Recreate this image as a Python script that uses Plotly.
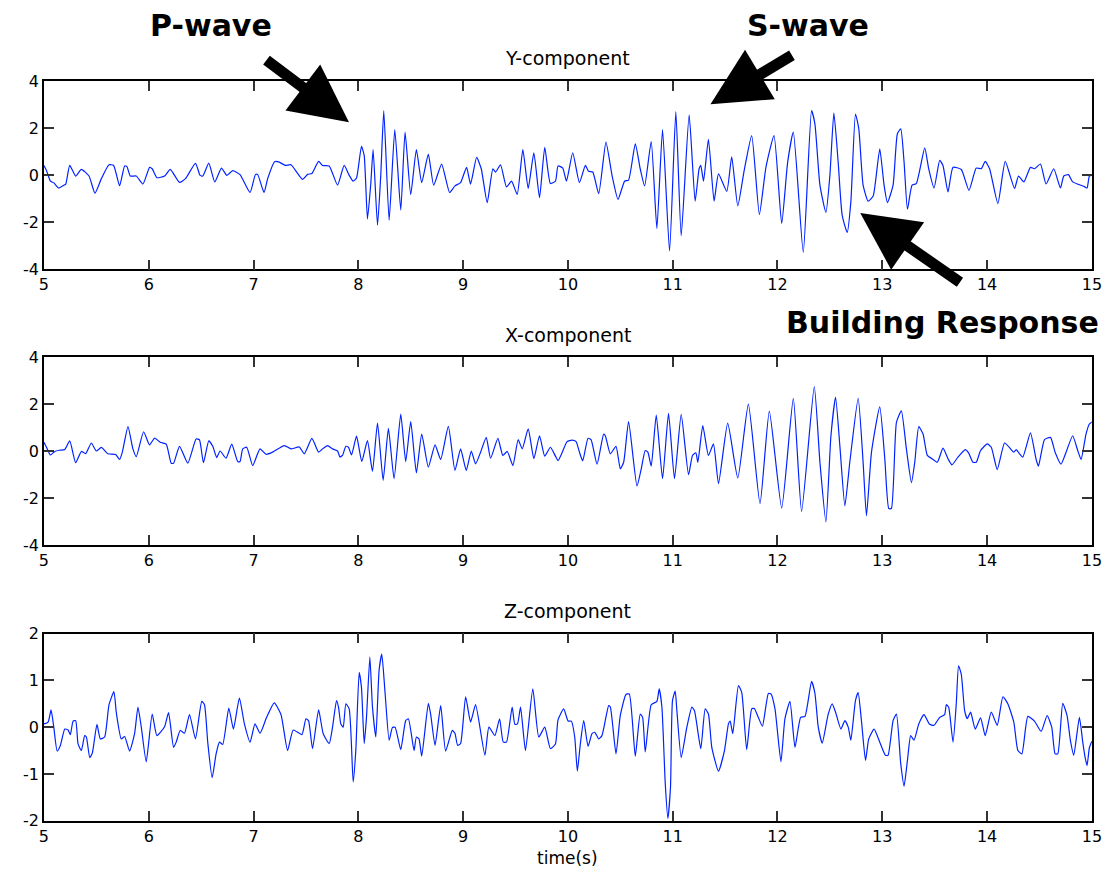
import plotly.graph_objects as go

# ---------------- data ----------------
# Y-component
t_y = [5.00,5.024,5.062,5.094,5.141,5.189,5.208,5.246,5.303,5.357,5.430,5.487,5.548,5.621,5.665,5.722,5.770,5.792,5.824,5.881,5.945,6.008,6.033,6.078,6.151,6.205,6.294,6.351,6.446,6.490,6.516,6.573,6.630,6.694,6.745,6.802,6.871,6.967,7.018,7.040,7.100,7.135,7.202,7.246,7.303,7.357,7.468,7.516,
       7.557,7.621,7.659,7.722,7.802,7.865,7.913,7.951,7.983,8.030,8.056,8.087,8.119,8.141,8.183,8.214,8.243,8.294,8.348,8.405,8.446,8.500,8.554,8.605,8.668,8.719,8.795,8.871,8.922,8.976,9.033,9.071,9.129,9.173,9.230,9.284,9.310,9.357,9.414,9.462,9.516,9.570,9.621,9.675,9.729,9.779,9.833,9.881,
       9.906,9.951,9.986,10.046,10.110,10.167,10.198,10.237,10.294,10.363,10.421,10.478,10.541,10.579,10.643,10.690,10.732,10.795,10.849,10.903,10.970,11.030,11.081,11.157,11.214,11.252,11.268,11.294,11.341,11.395,11.437,11.516,11.563,11.621,11.684,11.754,11.827,11.890,11.967,12.040,12.097,12.151,12.246,12.325,12.357,
       12.405,12.462,12.500,12.538,12.579,12.617,12.665,12.700,12.744,12.776,12.817,12.865,12.913,12.935,12.976,13.017,13.049,13.103,13.144,13.176,13.208,13.240,13.284,13.325,13.405,13.443,13.494,13.548,13.579,13.627,13.675,13.754,13.827,13.897,13.944,13.982,14.024,14.103,14.173,14.262,14.300,14.351,14.414,14.452,14.509,14.563,14.636,14.700,14.732,14.776,14.817,14.929,14.954,14.976,15.0]
a_y = [0.42,0.21,-0.25,-0.32,-0.54,-0.42,-0.37,0.42,-0.03,0.25,-0.03,-0.76,-0.14,0.45,0.42,-0.45,0.40,0.37,-0.03,-0.03,-0.37,0.34,0.28,-0.10,-0.03,0.25,-0.30,-0.14,0.51,0.00,-0.03,0.52,-0.28,0.31,0.00,0.20,0.03,-0.73,0.03,0.03,-0.73,-0.14,0.58,0.56,0.42,0.45,-0.17,0.04,
       0.08,0.59,0.42,0.40,-0.42,0.42,0.00,-0.25,-0.11,1.23,0.85,-1.86,-0.35,1.10,-2.12,0.00,2.75,-1.91,1.95,-1.48,1.84,-0.82,1.10,-0.31,0.90,-0.42,0.48,-0.73,-0.45,-0.31,0.34,-0.37,0.76,0.28,-1.16,0.28,0.14,0.45,-0.49,-0.25,-0.81,1.10,-0.56,0.96,-0.95,1.19,-0.35,-0.25,
       0.40,0.31,-0.25,0.96,-0.31,0.42,0.17,0.14,-0.78,1.41,0.00,-1.02,-0.25,-0.20,1.34,0.28,-0.45,1.44,-2.26,1.95,-3.22,2.71,-2.57,2.57,-1.10,0.28,0.42,-0.25,1.53,-1.10,0.06,-0.68,0.79,-1.30,0.25,1.69,-1.67,0.35,1.69,-2.05,0.56,1.84,-3.28,2.75,2.19,
       -0.42,-1.58,0.00,2.66,0.56,-1.69,-2.43,-1.13,2.61,1.98,-0.42,-1.10,-0.88,-0.28,1.13,-0.42,-1.16,-0.42,1.77,1.98,0.56,-1.44,-0.42,-0.35,1.17,0.28,-0.54,0.64,0.42,-0.71,0.34,0.25,-0.64,0.31,0.28,0.59,0.28,-1.20,0.59,-0.56,-0.03,-0.28,0.34,0.28,0.48,-0.37,0.28,-0.54,-0.03,0.03,-0.28,-0.48,-0.54,-0.03,0.0]

# X-component
t_x = [5.00,5.024,5.062,5.103,5.145,5.199,5.246,5.303,5.357,5.398,5.452,5.500,5.548,5.611,5.684,5.722,5.748,5.802,5.849,5.881,5.951,6.008,6.056,6.110,6.167,6.214,6.237,6.294,6.373,6.452,6.484,6.522,6.573,6.611,6.649,6.681,6.738,6.792,6.849,6.871,6.897,6.935,6.992,7.062,7.119,7.183,7.294,7.357,7.437,7.484,
       7.557,7.621,7.659,7.706,7.754,7.802,7.824,7.849,7.881,7.906,7.935,7.983,8.033,8.087,8.135,8.183,8.237,8.287,8.341,8.405,8.452,8.500,8.554,8.605,8.668,8.732,8.786,8.859,8.922,8.976,9.030,9.078,9.119,9.167,9.221,9.262,9.332,9.379,9.421,9.475,9.525,9.564,9.621,9.675,9.729,9.779,9.833,
       9.881,9.906,9.944,9.992,10.040,10.078,10.110,10.141,10.192,10.221,10.278,10.341,10.357,10.405,10.459,10.500,10.532,10.579,10.659,10.700,10.738,10.763,10.795,10.843,10.903,10.960,11.017,11.081,11.151,11.189,11.221,11.240,11.287,11.341,11.389,11.437,11.525,11.621,11.722,11.833,11.922,12.040,12.151,12.230,12.351,
       12.405,12.462,12.510,12.554,12.595,12.643,12.690,12.770,12.817,12.849,12.897,12.976,13.024,13.062,13.087,13.135,13.182,13.230,13.278,13.310,13.348,13.389,13.430,13.475,13.525,13.579,13.627,13.665,13.722,13.792,13.824,13.865,13.897,13.938,14.001,14.040,14.097,14.167,14.230,14.255,14.278,14.310,14.341,14.414,14.468,14.490,14.548,14.605,14.649,14.706,14.754,14.817,14.865,14.897,14.944,14.976,15.0]
a_x = [0.38,0.17,-0.16,-0.01,0.04,0.07,0.44,-0.49,-0.01,-0.10,0.35,0.01,0.16,-0.11,-0.14,-0.35,-0.04,1.05,0.10,-0.23,0.83,0.27,0.56,0.38,0.30,-0.51,-0.51,0.21,-0.51,0.52,0.49,-0.49,0.44,0.21,-0.27,0.01,-0.30,0.30,-0.44,-0.44,0.10,0.17,-0.61,0.10,-0.13,-0.04,0.24,0.10,0.18,-0.11,
       0.55,-0.04,0.10,0.24,0.10,0.01,-0.24,-0.18,0.21,0.17,-0.16,0.64,-0.44,0.45,-0.86,1.20,-1.24,0.97,-1.17,1.58,-0.44,1.26,-0.92,0.73,-0.68,0.27,-0.35,1.06,-0.82,0.10,-0.82,0.01,-0.54,-0.04,0.59,-0.30,0.55,-0.18,-0.01,-0.61,0.49,0.10,0.95,-0.32,0.66,-0.21,0.17,
       -0.21,-0.40,-0.07,0.41,0.47,0.41,-0.04,-0.41,0.55,0.49,-0.55,0.73,0.66,-0.11,0.21,-0.75,-0.47,1.26,-1.48,-0.75,0.03,-0.04,-0.64,1.54,-1.17,1.61,-1.17,1.57,-1.00,-0.18,-0.07,-0.47,1.09,-0.18,0.31,-1.38,1.20,-1.14,2.01,-2.23,1.71,-2.42,2.25,-2.56,2.75,
       -0.47,-3.01,0.66,2.29,0.24,-2.33,-0.47,2.25,-0.47,-2.75,-0.04,1.89,-0.32,-2.44,-2.44,1.23,1.72,0.10,-1.34,-0.47,1.05,0.73,-0.18,-0.32,-0.47,0.13,-0.32,-0.58,-0.25,0.07,-0.07,-0.47,-0.47,0.03,0.31,0.17,-0.78,0.35,0.07,-0.04,0.07,-0.11,-0.25,0.78,-0.35,-0.64,0.49,0.59,-0.04,-0.55,-0.04,0.66,0.03,-0.35,0.73,1.16,1.25]

# Z-component
t_z = [5.00,5.040,5.068,5.094,5.126,5.157,5.199,5.230,5.252,5.278,5.303,5.325,5.357,5.389,5.405,5.437,5.462,5.506,5.538,5.579,5.621,5.668,5.690,5.738,5.770,5.817,5.865,5.897,5.929,5.976,6.033,6.078,6.151,6.189,6.237,6.262,6.300,6.341,6.389,6.446,6.506,6.532,6.563,6.605,6.643,6.675,6.706,6.764,6.808,6.865,6.913,6.967,7.014,7.062,7.125,7.198,7.262,7.325,7.379,7.462,7.500,7.525,
       7.563,7.621,7.665,7.722,7.754,7.792,7.811,7.833,7.856,7.881,7.913,7.951,7.976,8.008,8.030,8.056,8.078,8.110,8.135,8.167,8.198,8.224,8.256,8.294,8.325,8.351,8.405,8.452,8.478,8.532,8.554,8.579,8.605,8.668,8.690,8.732,8.786,8.833,8.897,8.922,8.948,8.976,9.024,9.071,9.119,9.208,9.246,9.303,9.348,9.383,9.414,9.468,9.494,9.519,9.548,9.595,9.665,9.722,9.779,9.833,9.881,
       9.906,9.960,10.002,10.033,10.065,10.090,10.119,10.151,10.192,10.230,10.256,10.294,10.325,10.389,10.405,10.459,10.500,10.554,10.586,10.643,10.690,10.713,10.738,10.795,10.849,10.871,10.897,10.929,10.954,10.979,10.998,11.024,11.040,11.081,11.135,11.183,11.208,11.268,11.310,11.341,11.373,11.437,11.494,11.532,11.548,11.573,11.627,11.659,11.706,11.754,11.779,11.817,11.856,11.913,11.938,11.976,12.033,12.071,12.119,12.167,12.221,12.262,12.325,12.357,
       12.389,12.427,12.484,12.522,12.554,12.605,12.643,12.675,12.700,12.744,12.770,12.801,12.840,12.871,12.922,12.976,13.030,13.055,13.103,13.135,13.176,13.208,13.240,13.271,13.303,13.348,13.398,13.452,13.494,13.548,13.595,13.611,13.633,13.675,13.706,13.728,13.754,13.786,13.811,13.843,13.887,13.938,13.982,14.040,14.097,14.151,14.198,14.255,14.294,14.332,14.389,14.452,14.516,14.573,14.617,14.649,14.675,14.722,14.763,14.795,14.827,14.881,14.913,14.935,14.954,14.976,15.0]
a_z = [0.07,0.11,0.37,0.00,-0.51,-0.39,-0.04,-0.06,-0.16,0.13,0.14,-0.35,-0.50,-0.18,-0.21,-0.65,-0.55,0.06,-0.25,-0.21,0.48,0.76,0.32,-0.25,-0.20,-0.51,-0.14,0.43,0.00,-0.74,0.28,-0.18,0.01,0.31,-0.43,-0.32,-0.07,-0.13,0.27,-0.25,0.55,0.48,-0.32,-1.08,-0.57,-0.32,-0.37,0.41,-0.04,0.62,0.07,-0.32,0.07,-0.13,0.21,0.52,0.27,-0.50,-0.06,-0.16,0.18,0.14,
       -0.46,0.37,-0.14,-0.35,0.00,0.57,0.43,0.07,0.00,0.50,0.39,-1.17,-0.50,1.17,0.85,-0.35,0.21,1.50,0.43,-0.21,1.21,1.56,0.71,-0.28,-0.01,0.00,-0.48,0.14,0.18,-0.50,-0.21,-0.25,-0.62,0.51,0.28,-0.39,0.46,-0.51,-0.07,-0.13,-0.39,-0.35,0.65,0.11,0.48,-0.60,0.00,-0.18,0.18,-0.32,-0.32,0.43,0.06,0.07,0.43,-0.50,0.82,-0.21,0.00,-0.46,-0.36,
       0.16,0.39,0.13,0.13,-0.21,-0.94,-0.35,0.14,-0.41,-0.14,-0.11,-0.25,-0.18,0.46,0.43,-0.57,0.25,0.70,0.71,-0.62,0.28,0.21,-0.53,0.48,0.55,0.82,0.43,-1.21,-1.95,-1.28,0.57,0.77,0.35,-0.65,0.00,0.43,0.35,-0.46,0.39,0.28,-0.43,-0.94,-0.50,0.07,0.13,-0.14,0.89,0.74,-0.48,0.39,0.40,0.21,0.02,0.72,0.71,0.39,-0.74,0.18,0.55,-0.43,0.21,0.23,0.98,0.73,
       0.00,-0.34,0.28,0.50,0.32,-0.04,0.14,0.00,-0.28,0.57,0.74,0.14,-0.71,-0.25,-0.04,-0.32,-0.60,-0.60,0.14,0.28,-0.78,-1.26,-0.71,-0.18,-0.28,0.07,0.27,0.06,0.04,0.21,0.27,0.48,0.43,-0.32,0.50,1.31,1.13,0.35,0.18,0.32,-0.04,0.20,-0.18,0.32,0.04,0.65,0.50,0.11,-0.50,-0.57,0.23,0.13,-0.09,0.25,0.00,-0.57,-0.57,0.51,0.25,-0.28,-0.60,0.21,-0.32,-0.64,-0.82,-0.44,-0.30]

panel_titles = ["Y-component", "X-component", "Z-component"]
x_ticks = [5, 6, 7, 8, 9, 10, 11, 12, 13, 14, 15]
ticks_big = [-4, -2, 0, 2, 4]
ticks_small = [-2, -1, 0, 1, 2]
wave_labels = ["P-wave", "S-wave", "Building Response"]

# ---------------- figure ----------------
W, H = 1113, 884
# compensation for how the page ends up in the captured picture
SX, OX, SY, OY = 0.988, 3.5, 0.981, 8.5


def px_x(p):
    return ((p - OX) / SX) / W


def px_y(p):
    return 1 - ((p - OY) / SY) / H


left_px, right_px = 42.5, 1092
panels_px = [(81, 269.5), (357.7, 546), (634.7, 822.3)]  # top, bottom (target pixels)

fig = go.Figure()
series = [(t_y, a_y), (t_x, a_x), (t_z, a_z)]
for i, (tt, aa) in enumerate(series):
    fig.add_trace(go.Scatter(x=tt, y=aa, mode="lines",
                             line=dict(color="#0022ff", width=1.2, shape="spline", smoothing=0.5),
                             xaxis="x" if i == 0 else f"x{i+1}",
                             yaxis="y" if i == 0 else f"y{i+1}",
                             showlegend=False, hoverinfo="skip"))

axis_font = dict(family="DejaVu Sans, sans-serif", size=16, color="black")
layout = dict(width=W, height=H, margin=dict(l=0, r=0, t=0, b=0),
              paper_bgcolor="white", plot_bgcolor="white", showlegend=False)

for i in range(3):
    top, bot = panels_px[i]
    xa = "xaxis" if i == 0 else f"xaxis{i+1}"
    ya = "yaxis" if i == 0 else f"yaxis{i+1}"
    yt = ticks_small if i == 2 else ticks_big
    layout[xa] = dict(domain=[px_x(left_px), px_x(right_px)], range=[5, 15],
                      tickvals=x_ticks, ticktext=[str(v) for v in x_ticks],
                      ticks="inside", ticklen=10, tickcolor="#333333", tickwidth=1.5,
                      showline=True, linecolor="black", linewidth=1.5, mirror="ticks",
                      showgrid=False, zeroline=False, tickfont=axis_font,
                      anchor="y" if i == 0 else f"y{i+1}")
    layout[ya] = dict(domain=[px_y(bot), px_y(top)], range=[yt[0], yt[-1]],
                      tickvals=yt, ticktext=[str(v) for v in yt],
                      ticks="inside", ticklen=10, tickcolor="#333333", tickwidth=1.5,
                      showline=True, linecolor="black", linewidth=1.5, mirror="ticks",
                      showgrid=False, zeroline=False, tickfont=axis_font,
                      anchor="x" if i == 0 else f"x{i+1}")
fig.update_layout(**layout)

ann = []
title_y = [58, 335, 612]
title_font = dict(family="DejaVu Sans, sans-serif", size=19, color="black")
for i, ttl in enumerate(panel_titles):
    ann.append(dict(text=ttl, x=px_x((left_px + right_px) / 2), y=px_y(title_y[i]),
                    xref="paper", yref="paper", showarrow=False, font=title_font,
                    xanchor="center", yanchor="middle"))
ann.append(dict(text="time(s)", x=px_x((left_px + right_px) / 2), y=px_y(860),
                xref="paper", yref="paper", showarrow=False,
                font=dict(family="DejaVu Sans, sans-serif", size=17, color="black"),
                xanchor="center", yanchor="middle"))

big_font = dict(family="DejaVu Sans, sans-serif", size=30, color="black")
label_pos = [(210, 25), (808, 25), (942, 323)]
for lbl, (px, py) in zip(wave_labels, label_pos):
    ann.append(dict(text=f"<b>{lbl}</b>", x=px_x(px), y=px_y(py), xref="paper", yref="paper",
                    showarrow=False, font=big_font, xanchor="center", yanchor="middle"))

# arrows: (tip_x, tip_y, tail_x, tail_y) in target pixels
arrows = [(348, 122, 265, 60), (710, 104, 792, 55), (860, 213, 960, 282)]
for tx, ty, sx, sy in arrows:
    ann.append(dict(text="", x=px_x(tx), y=px_y(ty), xref="paper", yref="paper",
                    ax=(sx - tx) / SX, ay=(sy - ty) / SY, axref="pixel", ayref="pixel",
                    showarrow=True, arrowhead=2, arrowsize=1.05, arrowwidth=11,
                    arrowcolor="black", standoff=0, startstandoff=0))
fig.update_layout(annotations=ann)

fig.write_html("out.html")
